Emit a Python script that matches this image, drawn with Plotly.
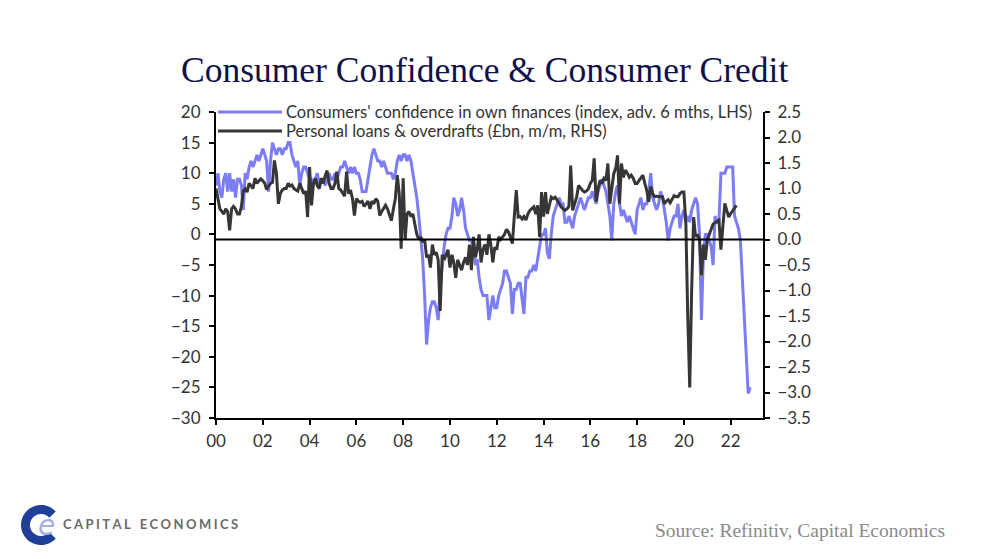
import numpy as np
import pandas as pd
import plotly.graph_objects as go

# Consumers' confidence in own finances (index, advanced 6 months, LHS), monthly from Jan 2000
confidence = [
    8, 10, 7, 6, 9, 10, 7, 10, 7, 9, 6, 9,
    9, 8, 4, 10, 9, 11, 12, 11, 12, 13, 12, 13,
    14, 13, 12, 7, 12, 15, 14, 13, 14, 14, 13, 14,
    14, 15, 15, 13, 12, 11, 12, 8, 10, 11, 11, 10,
    9, 9, 8, 9, 10, 8, 9, 9, 8, 9, 10, 9,
    9, 10, 9, 10, 11, 11, 12, 11, 10, 11, 10, 11,
    10, 10, 9, 7, 7, 7, 9, 11, 13, 14, 13, 12,
    12, 11, 12, 11, 10, 10, 10, 9, 10, 12, 13, 12,
    13, 13, 12, 13, 12, 10, 8, 6, 3, 0, -4, -10,
    -18, -14, -12, -11, -11, -12, -14, -9, -5, -2, 0, 1,
    1, 3, 6, 5, 3, 4, 6, 4, 1, 0, -1, -1,
    -2, -5, -4, -7, -9, -10, -10, -10, -14, -12, -10, -12,
    -12, -10, -9, -8, -6, -6, -7, -8, -13, -9, -9, -8,
    -8, -11, -13, -7, -7, -6, -6, -5, -6, -4, -2, 0,
    0, 1, -3, -4, 0, 3, 4, 5, 6, 5, 5, 2,
    2, 3, 2, 1, 3, 4, 5, 6, 5, 4, 5, 6,
    6, 7, 6, 5, 7, 8, 9, 8, 7, 5, 3, -1,
    5, 7, 8, 5, 3, 4, 3, 2, 3, 2, 1, 0,
    4, 5, 6, 4, 5, 5, 7, 10, 6, 5, 4, 5,
    7, 6, 4, 2, -1, 1, 2, 3, 3, 5, 1, 3,
    4, 2, 3, 2, 4, 5, 6, 5, 0, -14, -3, 0,
    0, -1, -2, -5, 3, 2, 2, 10, 10, 10, 11, 11,
    11, 11, 3, 2, 1, -1, -7, -15, -21, -26, -25,
]

# Personal loans & overdrafts (GBP bn, m/m, RHS), monthly from Jan 2000
loans = [
    1.0, 0.8, 0.6, 0.55, 0.5, 0.6, 0.55, 0.18, 0.6, 0.65, 0.6, 0.5,
    0.5, 0.65, 0.95, 0.99, 0.93, 1.1, 1.05, 1.0, 1.2, 1.1, 1.15, 1.19,
    1.15, 1.1, 0.98, 1.05, 1.1, 1.12, 1.55, 1.3, 0.7, 0.9, 0.97, 1.0,
    1.0, 1.1, 1.05, 1.07, 1.0, 0.97, 0.95, 1.1, 1.0, 0.9, 0.95, 0.44,
    1.42, 0.67, 1.1, 1.2, 1.05, 1.0, 1.2, 1.1, 1.25, 1.35, 1.1, 1.0,
    1.0, 1.1, 1.33, 1.0, 0.97, 0.9, 0.85, 1.33, 0.9, 0.97, 0.8, 0.47,
    0.8, 0.75, 0.73, 0.75, 0.65, 0.7, 0.75, 0.6, 0.75, 0.7, 0.8, 0.75,
    0.47, 0.55, 0.6, 0.67, 0.6, 0.5, 0.37, 0.6, 0.8, 1.26, 0.9, -0.18,
    1.2, 0.0, 0.5, 0.55, 0.45, 0.5, 0.3, 0.1, 0.0, 0.05, -0.05, 0.0,
    -0.35, -0.3, -0.55, -0.1, -0.3, -0.25, -0.4, -1.4, -0.3, -0.4, -0.3, -0.2,
    -0.55, -0.3, -0.45, -0.75, -0.4, -0.5, -0.6, -0.45, -0.35, -0.5, -0.1, -0.6,
    0.05, -0.35, -0.2, 0.1, -0.45, -0.2, -0.1, -0.3, 0.1, -0.1, -0.45, -0.15,
    -0.2, 0.05, 0.0, 0.05, 0.1, 0.2, 0.15, 0.05, -0.08, 0.45, 0.97, 0.44,
    0.45, 0.4, 0.45, 0.38, 0.5, 0.57, 0.6, 0.64, 0.5, 0.67, 0.05, 0.93,
    0.45, 0.93, 0.5, 0.7, 0.83, 0.8, 0.83, 0.77, 0.7, 0.64, 0.6, 0.57,
    0.6, 0.65, 1.45, 0.57, 0.7, 0.83, 1.06, 1.0, 0.96, 0.93, 0.95, 0.99,
    1.1, 1.16, 1.59, 0.74, 1.0, 1.16, 1.1, 1.2, 1.16, 1.49, 0.7, 1.0,
    1.29, 1.4, 1.65, 0.7, 1.49, 1.22, 1.36, 1.3, 1.22, 1.26, 1.2, 1.1,
    1.1, 1.16, 1.2, 1.26, 1.1, 0.96, 0.74, 1.04, 0.9, 0.84, 0.85, 0.84,
    0.84, 0.84, 0.7, 0.75, 0.78, 0.72, 0.8, 0.86, 0.84, 0.84, 0.9, 0.93,
    0.93, 0.3, -1.5, -2.9, -1.0, 0.44, 0.05, 0.1, 0.0, -0.7, -0.1, -0.4,
    0.0, 0.1, 0.2, 0.3, 0.33, 0.35, 0.38, -0.2, 0.25, 0.71, 0.57, 0.44,
    0.51, 0.57, 0.6, 0.67,
]

series_names = [
    "Consumers' confidence in own finances (index, adv. 6 mths, LHS)",
    "Personal loans & overdrafts (£bn, m/m, RHS)",
]
title_text = "Consumer Confidence & Consumer Credit"
source_text = "Source: Refinitiv, Capital Economics"

conf_dates = pd.date_range("2000-01-01", periods=len(confidence), freq="MS")
loan_dates = pd.date_range("2000-01-01", periods=len(loans), freq="MS")

BLUE = "#7c7cf4"
DARK = "#363636"
TICK_FONT = dict(family="Lato, 'Open Sans', sans-serif", size=17, color="#333333")

fig = go.Figure()
fig.add_trace(go.Scatter(x=conf_dates, y=confidence, mode="lines",
                         line=dict(color=BLUE, width=3), name=series_names[0], yaxis="y"))
fig.add_trace(go.Scatter(x=loan_dates, y=loans, mode="lines",
                         line=dict(color=DARK, width=3), name=series_names[1], yaxis="y2"))

# plot-area pixel geometry (for paper conversions of decorations)
W, H = 983, 559
L, R, T, B = 216, 763, 112, 418


def px(xp):
    return (xp - L) / (R - L)


def py(yp):
    return (B - yp) / (B - T)


shapes = []
annotations = []

# zero line on RHS scale
shapes.append(dict(type="line", xref="paper", x0=0, x1=1, yref="y2", y0=0, y1=0,
                   line=dict(color="black", width=2), layer="above"))

# manual legend
legend_rows = [(112, BLUE), (131, DARK)]
for (ypix, col), name in zip(legend_rows, series_names):
    shapes.append(dict(type="line", xref="paper", yref="paper",
                       x0=px(218), x1=px(282), y0=py(ypix), y1=py(ypix),
                       line=dict(color=col, width=3), layer="above"))
    annotations.append(dict(text=name, xref="paper", yref="paper", x=px(284), y=py(ypix),
                            xanchor="left", yanchor="middle", showarrow=False,
                            font=dict(family="Lato, sans-serif", size=16.5, color="#333333")))

# title
annotations.append(dict(text=title_text, xref="paper", yref="paper", x=px(484), y=py(70),
                        xanchor="center", yanchor="middle", showarrow=False,
                        font=dict(family="'Liberation Serif', serif", size=35.5, color="#10104a")))

# source
annotations.append(dict(text=source_text, xref="paper", yref="paper", x=px(947), y=py(530),
                        xanchor="right", yanchor="middle", showarrow=False,
                        font=dict(family="'Liberation Serif', serif", size=19.5, color="#8a8a8a")))

# logo: C ring
cx, cy, rr = 41, 525, 15.5
ang = np.linspace(np.radians(42), np.radians(318), 60)
pts = [(px(cx + rr * np.cos(a)), py(cy - rr * np.sin(a))) for a in ang]
path = "M " + " L ".join(f"{x:.5f},{y:.5f}" for x, y in pts)
shapes.append(dict(type="path", xref="paper", yref="paper", path=path,
                   line=dict(color="#1f3f99", width=9)))
annotations.append(dict(text="<i>e</i>", xref="paper", yref="paper", x=px(46), y=py(525),
                        xanchor="center", yanchor="middle", showarrow=False,
                        font=dict(family="'DejaVu Sans', sans-serif", size=28, color="#a7afe2")))
gap = "\u2009\u200a"
logo_text = gap.join("CAPITAL") + gap + "\u2002" + gap.join("ECONOMICS")
annotations.append(dict(text=logo_text,
                        xref="paper", yref="paper", x=px(61), y=py(524),
                        xanchor="left", yanchor="middle", showarrow=False,
                        font=dict(family="Lato, sans-serif", size=13, color="#6a6a6a", weight="bold")))

fig.update_layout(
    width=W, height=H,
    margin=dict(l=L, r=W - R, t=T, b=H - B),
    paper_bgcolor="white", plot_bgcolor="white",
    showlegend=False,
    shapes=shapes, annotations=annotations,
    xaxis=dict(type="date", range=["2000-01-01", "2023-05-20"], tick0="2000-01-01",
               dtick="M24", tickformat="%y", showgrid=False, zeroline=False,
               showline=True, linecolor="black", linewidth=2,
               ticks="outside", ticklen=5, tickwidth=2, tickcolor="black",
               tickfont=TICK_FONT, ticklabelstandoff=2),
    yaxis=dict(range=[-30, 20], dtick=5, showgrid=False, zeroline=False,
               showline=True, linecolor="black", linewidth=2,
               ticks="outside", ticklen=5, tickwidth=2, tickcolor="black",
               tickfont=TICK_FONT, ticklabelstandoff=5),
    yaxis2=dict(range=[-3.5, 2.5], dtick=0.5, tickformat=".1f", overlaying="y", side="right",
                showgrid=False, zeroline=False,
                showline=True, linecolor="black", linewidth=2,
                ticks="outside", ticklen=5, tickwidth=2, tickcolor="black",
                tickfont=TICK_FONT, ticklabelstandoff=4),
)

fig.write_html("out.html")
